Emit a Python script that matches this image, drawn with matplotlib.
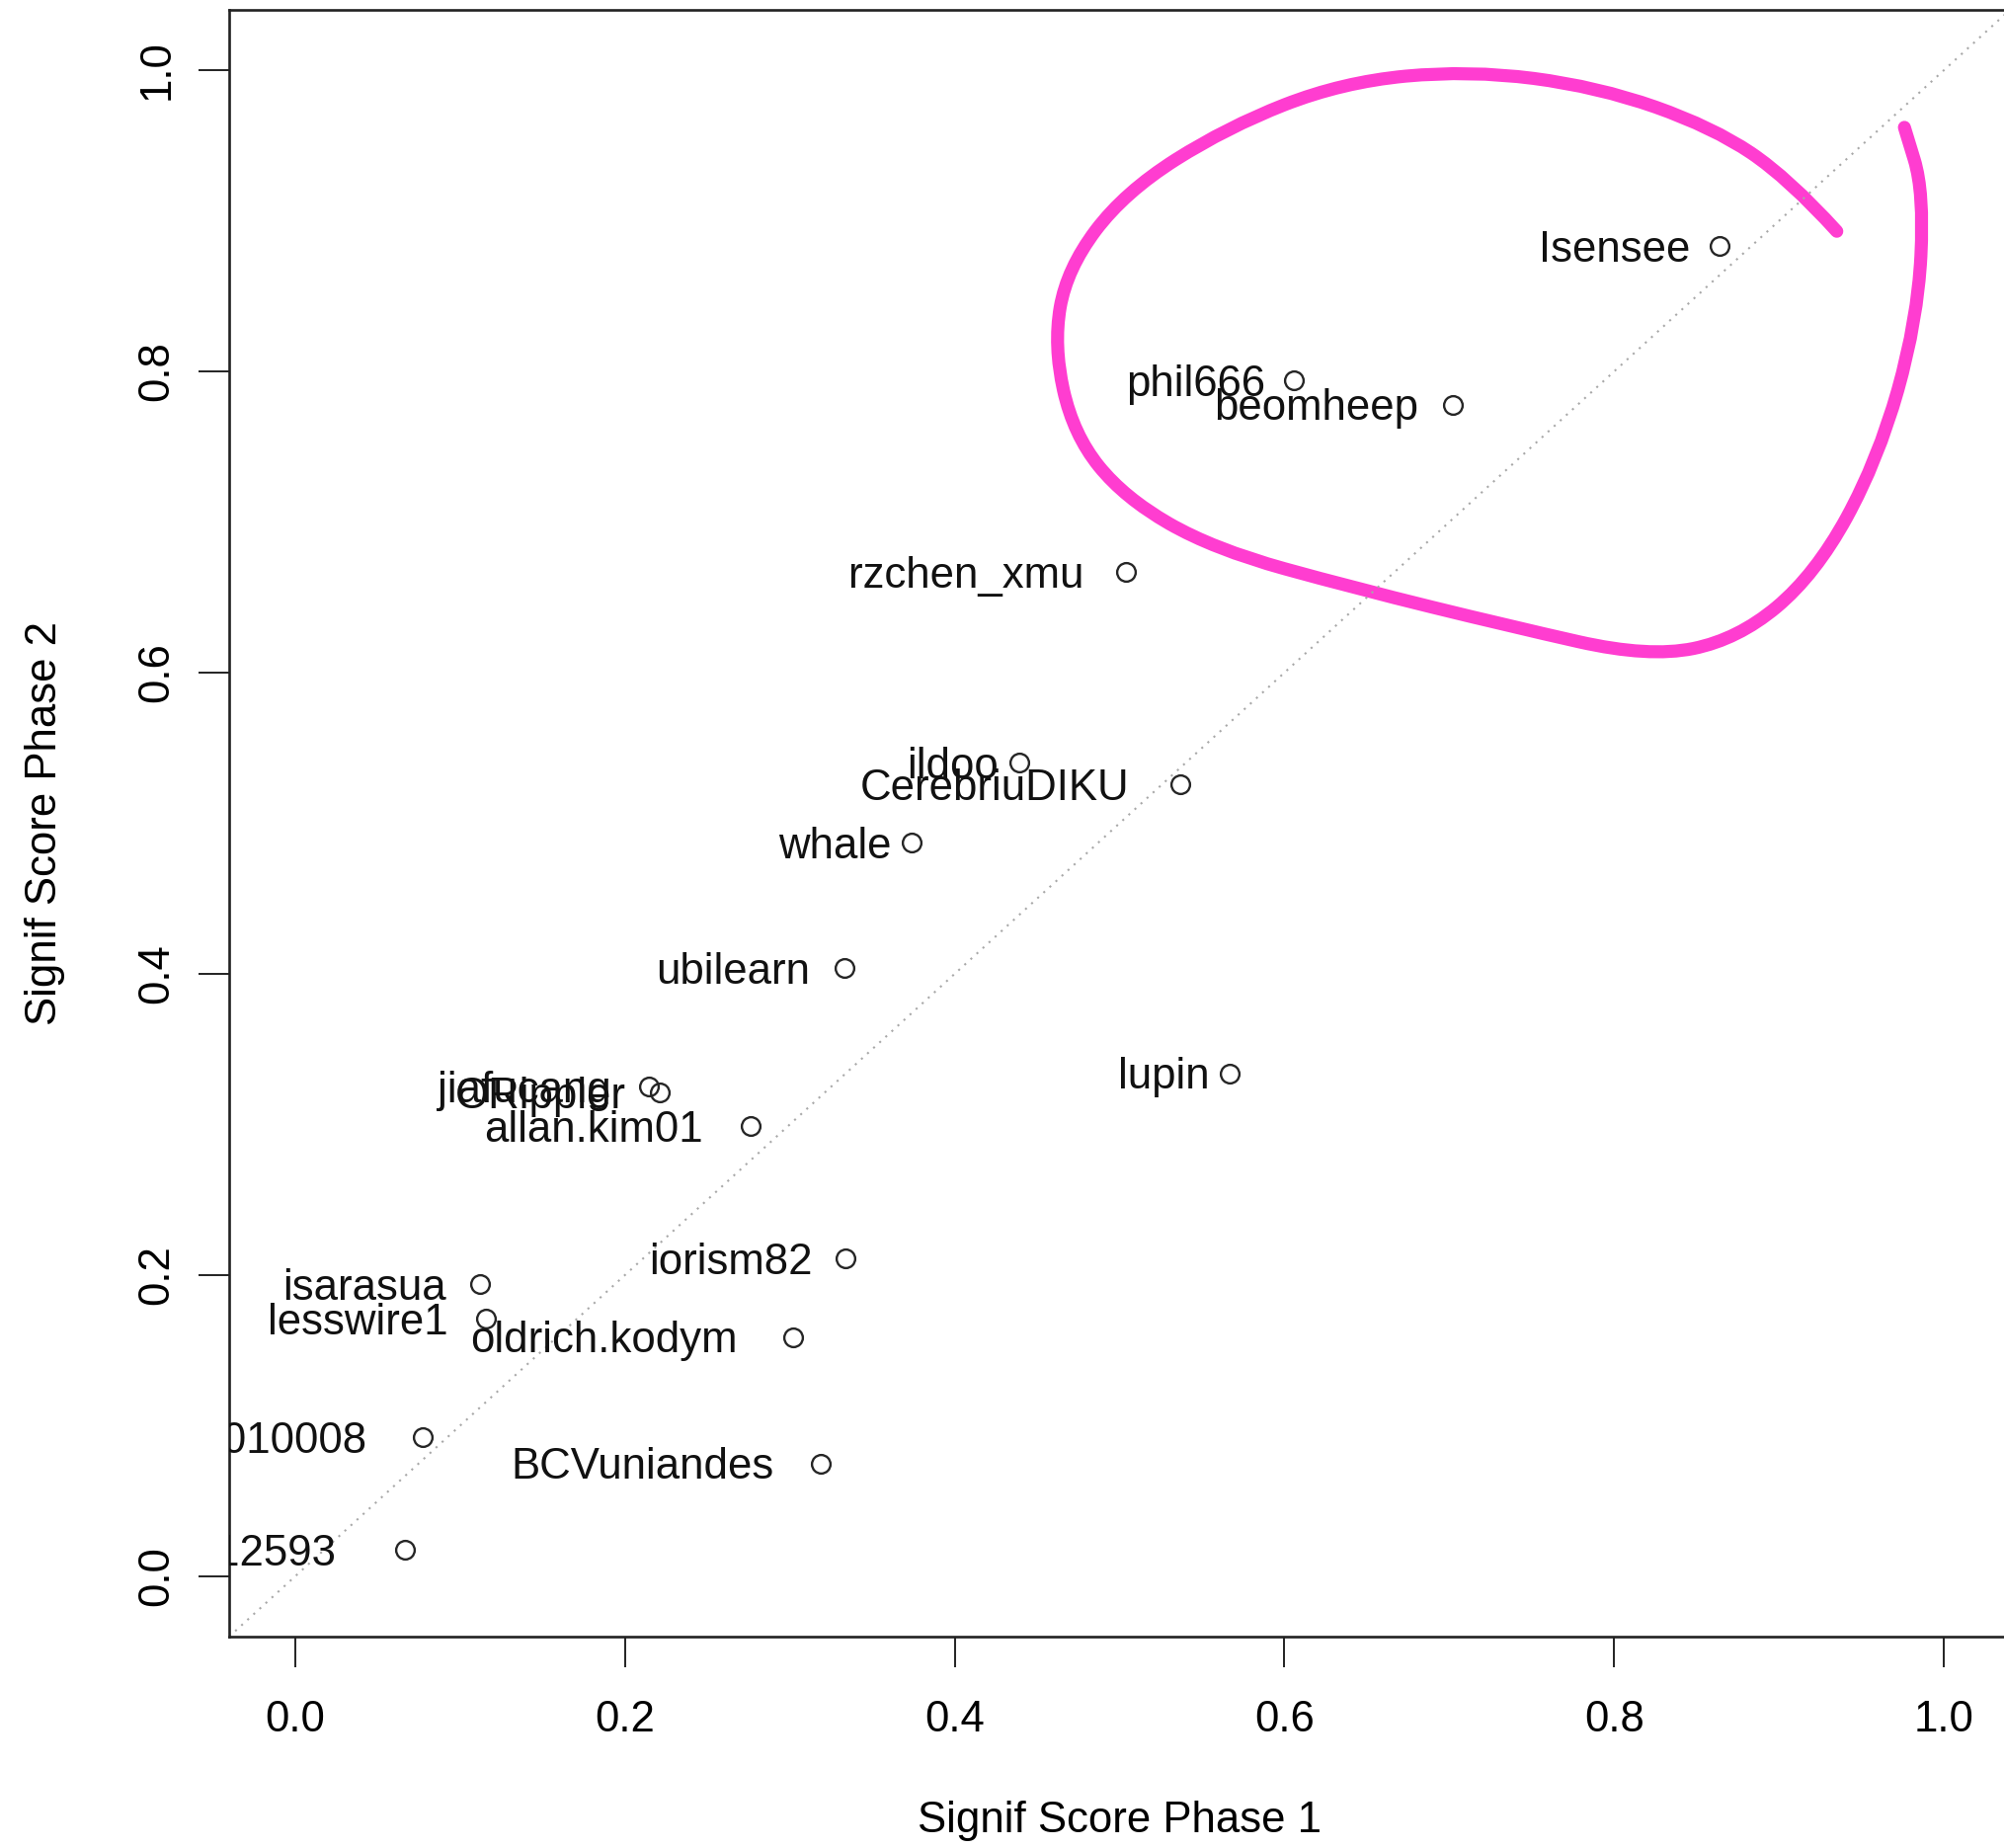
import numpy as np
import matplotlib
matplotlib.use('Agg')
import matplotlib.pyplot as plt
from matplotlib.path import Path
from matplotlib.patches import PathPatch

plt.rcParams['font.family'] = ['Liberation Sans', 'DejaVu Sans']

# Data
teams = ['Isensee', 'phil666', 'beomheep', 'rzchen_xmu', 'ildoo', 'CerebriuDIKU',
         'whale', 'ubilearn', 'lupin', 'jiafucang', 'ORippler', 'allan.kim01',
         'iorism82', 'isarasua', 'lesswire1', 'oldrich.kodym', 'x_team2010008',
         'BCVuniandes', 'participant12593']
phase1 = [0.864, 0.606, 0.702, 0.504, 0.439, 0.537,
          0.374, 0.333, 0.567, 0.2145, 0.221, 0.276,
          0.334, 0.112, 0.116, 0.302, 0.0775,
          0.319, 0.0667]
phase2 = [0.883, 0.794, 0.778, 0.667, 0.540, 0.526,
          0.487, 0.404, 0.334, 0.325, 0.321, 0.299,
          0.211, 0.194, 0.171, 0.159, 0.0925,
          0.075, 0.0178]

# hand-drawn highlight loop (data coords)
loop_x = [0.935, 0.906, 0.860, 0.790, 0.712, 0.635, 0.565, 0.503, 0.468, 0.460,
          0.472, 0.503, 0.557, 0.643, 0.736, 0.821, 0.875, 0.922, 0.960, 0.984,
          0.988, 0.976]
loop_y = [0.893, 0.928, 0.962, 0.989, 1.000, 0.992, 0.962, 0.919, 0.868, 0.817,
          0.758, 0.716, 0.682, 0.656, 0.631, 0.610, 0.622, 0.665, 0.741, 0.834,
          0.919, 0.962]

ticks = [0.0, 0.2, 0.4, 0.6, 0.8, 1.0]
FS = 31.5

fig = plt.figure(figsize=(20.29, 18.71), dpi=100)
ax = fig.add_axes([0.11434, 0.11438, 0.88862, 0.88028])
ax.set_xlim(-0.04, 1.04)
ax.set_ylim(-0.04, 1.04)

# identity line
ax.axline((0, 0), slope=1, color='#a8a8a8', lw=1.5, linestyle=(0, (1, 3)))

ax.plot(phase1, phase2, linestyle='none', marker='o', markersize=13.5,
        markerfacecolor='none', markeredgecolor='#262626', markeredgewidth=1.7)

for name, x, y in zip(teams, phase1, phase2):
    ax.annotate(name, (x, y), xytext=(-(3.2 * len(name) - 1), -11.3),
                textcoords='offset points', ha='right', va='baseline',
                fontsize=FS, color='#111111', clip_on=True)

# highlight loop
pts = np.column_stack([loop_x, loop_y])
verts = [pts[0]]
codes = [Path.MOVETO]
for i in range(1, len(pts) - 1):
    verts += [pts[i], (pts[i] + pts[i + 1]) / 2]
    codes += [Path.CURVE3, Path.CURVE3]
verts.append(pts[-1])
codes.append(Path.LINETO)
ax.add_patch(PathPatch(Path(verts, codes), facecolor='none', edgecolor='#ff3dd0',
                       lw=9.5, capstyle='round', joinstyle='round'))

ax.set_xticks(ticks)
ax.set_yticks(ticks)
ax.set_xticklabels([f'{t:.1f}' for t in ticks])
ax.set_yticklabels([f'{t:.1f}' for t in ticks], rotation=90, va='center')
ax.tick_params(direction='out', length=22, width=1.4, labelsize=FS, color='#222222')
ax.tick_params(axis='x', pad=24)
ax.tick_params(axis='y', pad=16)
for s in ax.spines.values():
    s.set_linewidth(1.9)
    s.set_color('#222222')

ax.set_xlabel('Signif Score Phase 1', fontsize=FS, va='center')
ax.set_ylabel('Signif Score Phase 2', fontsize=FS, va='center')
ax.xaxis.set_label_coords(0.5, -0.1135)
ax.yaxis.set_label_coords(-0.1037, 0.5)

fig.savefig('out.png', dpi=100)
